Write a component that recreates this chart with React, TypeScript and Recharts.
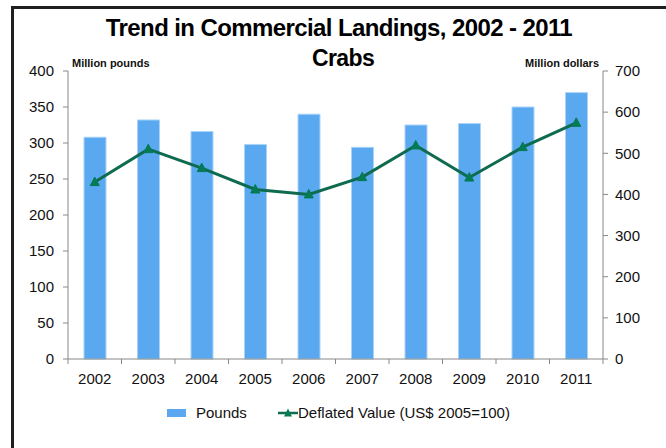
import React from "react";
import {
  ComposedChart,
  Bar,
  Line,
  XAxis,
  YAxis,
  Legend,
} from "recharts";

const years = ["2002", "2003", "2004", "2005", "2006", "2007", "2008", "2009", "2010", "2011"];
const pounds = [308, 332, 316, 298, 340, 294, 325, 327, 350, 370];
const deflatedValue = [430, 510, 464, 412, 400, 442, 519, 441, 515, 574];
const leftTicks = [0, 50, 100, 150, 200, 250, 300, 350, 400];
const rightTicks = [0, 100, 200, 300, 400, 500, 600, 700];

const data = years.map((year, i) => ({
  year,
  pounds: pounds[i],
  value: deflatedValue[i],
}));

const FONT = '"Liberation Sans", Arial, sans-serif';
const BAR_COLOR = "#5AA9F0";
const LINE_COLOR = "#0E6B4F";
const MARKER_COLOR = "#047A55";
const AXIS_COLOR = "#888888";
const TEXT_COLOR = "#111111";

const PLOT_LEFT = 68;
const PLOT_RIGHT = 603;
const BAND = (PLOT_RIGHT - PLOT_LEFT) / years.length;

const Triangle = (props: any) => {
  const { cx, cy } = props;
  if (cx == null || cy == null) return null;
  return (
    <polygon
      points={`${cx},${cy - 5} ${cx - 4.5},${cy + 3.5} ${cx + 4.5},${cy + 3.5}`}
      fill={MARKER_COLOR}
      stroke={MARKER_COLOR}
      strokeWidth={1}
    />
  );
};

const YearTick = (props: any) => {
  const { x, y, payload, index } = props;
  const half = BAND / 2;
  return (
    <g>
      <line x1={x - half} x2={x - half} y1={y - 14} y2={y - 9} stroke={AXIS_COLOR} />
      {index === years.length - 1 && (
        <line x1={x + half} x2={x + half} y1={y - 14} y2={y - 9} stroke={AXIS_COLOR} />
      )}
      <text x={x} y={y} dy="0.71em" textAnchor="middle" fontSize={15} fill={TEXT_COLOR} fontFamily={FONT}>
        {payload.value}
      </text>
    </g>
  );
};

const LegendContent = () => (
  <div style={{ position: "relative", height: 20, fontFamily: FONT, fontSize: 15, color: TEXT_COLOR }}>
    <span style={{ position: "absolute", left: 167, top: 6, width: 19, height: 8, background: BAR_COLOR }} />
    <span style={{ position: "absolute", left: 196, top: 1, lineHeight: "18px" }}>Pounds</span>
    <svg style={{ position: "absolute", left: 278, top: 4 }} width={20} height={12}>
      <line x1={0} x2={20} y1={6} y2={6} stroke={LINE_COLOR} strokeWidth={2.5} />
      <polygon points="10,1.5 6,9.5 14,9.5" fill={MARKER_COLOR} />
    </svg>
    <span style={{ position: "absolute", left: 298, top: 1, lineHeight: "18px" }}>
      Deflated Value (US$ 2005=100)
    </span>
  </div>
);

const App: React.FC = () => {
  return (
    <div
      style={{
        position: "absolute",
        left: 0,
        top: 0,
        width: 666,
        height: 448,
        overflow: "hidden",
        background: "#fff",
        fontFamily: FONT,
      }}
    >
      <div
        style={{
          position: "absolute",
          left: 11,
          top: 6,
          width: 720,
          height: 520,
          border: "3px solid #1e1e1e",
        }}
      />
      <svg style={{ position: "absolute", left: 0, top: 0 }} width={666} height={80}>
        <text x={339} y={36} textAnchor="middle" fontSize={24} fontWeight="bold" letterSpacing={-0.6} fill="#000" fontFamily={FONT}>
          Trend in Commercial Landings, 2002 - 2011
        </text>
        <text x={343} y={66} textAnchor="middle" fontSize={23} fontWeight="bold" letterSpacing={-0.6} fill="#000" fontFamily={FONT}>
          Crabs
        </text>
      </svg>
      <div style={{ position: "absolute", left: 0, top: 0 }}>
        <ComposedChart
          width={666}
          height={448}
          data={data}
          margin={{ top: 71, right: 0, left: 0, bottom: 59 }}
        >
          <XAxis
            dataKey="year"
            height={30}
            stroke={AXIS_COLOR}
            tickLine={false}
            tickSize={5}
            tickMargin={9}
            tick={<YearTick />}
            interval={0}
          />
          <YAxis
            yAxisId="left"
            orientation="left"
            width={68}
            domain={[0, 400]}
            ticks={leftTicks}
            stroke={AXIS_COLOR}
            tickSize={5}
            tickMargin={9}
            tick={{ fontSize: 15, fill: TEXT_COLOR, fontFamily: FONT }}
            label={{
              content: (p: any) => (
                <text
                  x={p.viewBox.x + p.viewBox.width + 4}
                  y={p.viewBox.y - 4}
                  fontSize={11}
                  fontWeight="bold"
                  fill={TEXT_COLOR}
                  fontFamily={FONT}
                >
                  Million pounds
                </text>
              ),
            }}
          />
          <YAxis
            yAxisId="right"
            orientation="right"
            width={63}
            domain={[0, 700]}
            ticks={rightTicks}
            stroke={AXIS_COLOR}
            tickSize={5}
            tickMargin={7}
            tick={{ fontSize: 15, fill: TEXT_COLOR, fontFamily: FONT }}
            label={{
              content: (p: any) => (
                <text
                  x={p.viewBox.x - 4}
                  y={p.viewBox.y - 4}
                  textAnchor="end"
                  fontSize={11}
                  fontWeight="bold"
                  fill={TEXT_COLOR}
                  fontFamily={FONT}
                >
                  Million dollars
                </text>
              ),
            }}
          />
          <Legend
            layout="horizontal"
            verticalAlign="middle"
            align="center"
            wrapperStyle={{ top: 403, left: 0, width: 666, height: 20 }}
            content={<LegendContent />}
          />
          <Bar
            yAxisId="left"
            dataKey="pounds"
            name="Pounds"
            fill={BAR_COLOR}
            stroke="#A9D4F8"
            strokeWidth={1}
            barSize={22}
            isAnimationActive={false}
          />
          <Line
            yAxisId="right"
            dataKey="value"
            name="Deflated Value (US$ 2005=100)"
            type="linear"
            stroke={LINE_COLOR}
            strokeWidth={3}
            dot={<Triangle />}
            activeDot={false}
            isAnimationActive={false}
          />
        </ComposedChart>
      </div>
    </div>
  );
};

export default App;
